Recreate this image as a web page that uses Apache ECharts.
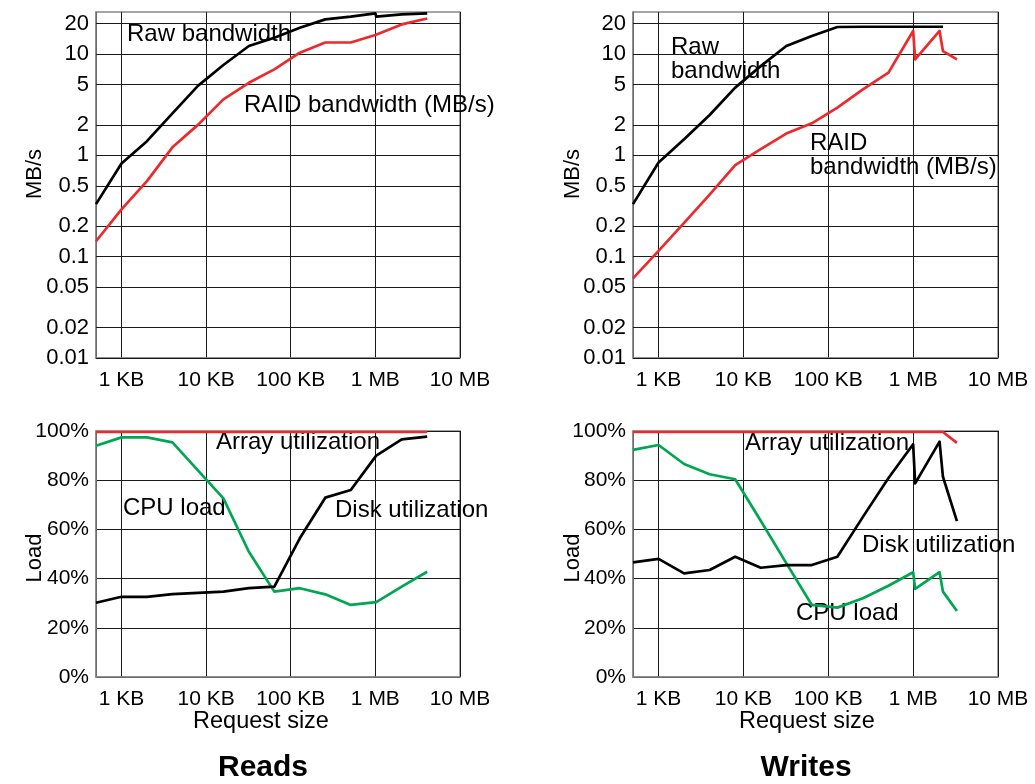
<!DOCTYPE html>
<html>
<head>
<meta charset="utf-8">
<script src="https://cdn.jsdelivr.net/npm/echarts@6/dist/echarts.min.js"></script>
<style>
  html, body { margin: 0; padding: 0; background: #fff; }
  #chart { width: 1035px; height: 784px; }
</style>
</head>
<body>
<div id="chart"></div>
<script>
// ---------- DATA ----------
// Request sizes in KB (1 MB = 1000 KB on the axis)
const readBwSizesKB   = [0.5, 1, 2, 4, 8, 16, 32, 64, 128, 256, 512, 1000, 1024, 2048, 4096];
const readRawMBs      = [0.33, 0.83, 1.38, 2.6, 4.85, 7.8, 12.0, 14.5, 18.2, 22.0, 23.4, 25.2, 23.4, 24.6, 25.2];
const readRaidMBs     = [0.142, 0.293, 0.557, 1.2, 2.0, 3.57, 5.2, 7.06, 10.3, 13.0, 13.0, 15.4, 15.6, 19.6, 22.4];

const readLoadSizesKB = [0.5, 1, 2, 4, 8, 16, 32, 64, 128, 256, 512, 1024, 2048, 4096];
const readArrayUtil   = [99.6, 99.6, 99.6, 99.6, 99.6, 99.6, 99.6, 99.6, 99.6, 99.6, 99.6, 99.6, 99.6, 99.6];
const readCpuLoad     = [94.0, 97.4, 97.4, 95.4, 84.0, 72.6, 50.9, 34.7, 36.1, 33.6, 29.3, 30.4, 36.7, 42.8];
const readDiskUtil    = [30.2, 32.6, 32.6, 33.7, 34.2, 34.7, 36.1, 36.7, 56.4, 72.9, 76.0, 90.0, 96.6, 97.7];

const writeSizesKB    = [0.5, 1, 2, 4, 8, 16, 32, 64, 128, 256, 512, 1000, 1056, 2048, 2245, 3280];
const writeRawMBs     = [0.33, 0.85, 1.44, 2.5, 4.66, 7.6, 12.0, 15.1, 18.5, 18.6, 18.6, 18.6, 18.6, 18.6, 18.6, null];
const writeRaidMBs    = [0.061, 0.114, 0.216, 0.41, 0.80, 1.15, 1.64, 2.07, 2.96, 4.48, 6.55, 16.9, 8.87, 16.9, 10.7, 8.87];
const writeArrayUtil  = [99.6, 99.6, 99.6, 99.6, 99.6, 99.6, 99.6, 99.6, 99.6, 99.6, 99.6, 99.6, 99.6, 99.6, 99.6, 95.2];
const writeDiskUtil   = [46.6, 48.0, 42.1, 43.5, 48.9, 44.4, 45.5, 45.5, 48.9, 65.1, 80.9, 94.6, 78.7, 95.7, 81.4, 63.4];
const writeCpuLoad    = [92.3, 94.3, 86.6, 82.4, 80.4, 63.5, 46.3, 29.3, 28.2, 32.0, 37.1, 42.6, 35.8, 42.6, 34.7, 26.8];

const xTickValuesKB   = [1, 10, 100, 1000, 10000];
const xTickLabels     = ['1 KB', '10 KB', '100 KB', '1 MB', '10 MB'];
const bwTickValues    = [0.01, 0.02, 0.05, 0.1, 0.2, 0.5, 1, 2, 5, 10, 20];
const loadTickLabels  = ['0%', '20%', '40%', '60%', '80%', '100%'];

// ---------- STYLE ----------
const FONT = '"Liberation Sans", Arial, Helvetica, sans-serif';
const RED = '#ec2a2e', GREEN = '#00a651', BLACK = '#000000';
const GRID_LINE = '#1a1a1a', FRAME = '#888888';

const chart = echarts.init(document.getElementById('chart'), null, { renderer: 'canvas' });

const grids = [
  { left: 96, top: 12, width: 364, height: 346 },   // reads bandwidth
  { left: 633, top: 12, width: 365, height: 346 },  // writes bandwidth
  { left: 96, top: 431, width: 364, height: 246 },  // reads load
  { left: 633, top: 431, width: 365, height: 246 }  // writes load
].map(g => Object.assign({ show: true, borderColor: FRAME, borderWidth: 1.5, backgroundColor: 'transparent', containLabel: false }, g));

function xAxisFor(i) {
  return {
    type: 'log', gridIndex: i, logBase: 10, min: 0.5, max: 10000,
    axisLine: { show: true, lineStyle: { color: FRAME, width: 1.5 } },
    axisTick: { show: false },
    splitLine: { show: true, lineStyle: { color: GRID_LINE, width: 1 } },
    axisLabel: {
      margin: 12, color: '#000', fontFamily: FONT, fontSize: 21, showMinLabel: true, showMaxLabel: true,
      formatter: v => {
        const k = xTickValuesKB.findIndex(t => Math.abs(Math.log10(v) - Math.log10(t)) < 0.01);
        return k >= 0 ? xTickLabels[k] : '';
      }
    }
  };
}

const xAxes = [0, 1, 2, 3].map(xAxisFor);
const yAxes = [
  { type: 'log', gridIndex: 0, min: 0.01, max: 26 },
  { type: 'log', gridIndex: 1, min: 0.01, max: 26 },
  { type: 'value', gridIndex: 2, min: 0, max: 100, interval: 20 },
  { type: 'value', gridIndex: 3, min: 0, max: 100, interval: 20 }
].map((a, i) => Object.assign(a, {
  axisLine: { show: true, lineStyle: { color: FRAME, width: 1.5 } },
  axisTick: { show: false },
  splitLine: { show: i >= 2, lineStyle: { color: GRID_LINE, width: 1 } },
  axisLabel: i >= 2 ? {
    show: true, margin: 7, color: '#000', fontFamily: FONT, fontSize: 21,
    formatter: v => loadTickLabels[Math.round(v / 20)]
  } : { show: false }
}));

function bwGridMarkLine() {
  return {
    silent: true, symbol: ['none', 'none'], z: 1, animation: false,
    lineStyle: { color: GRID_LINE, width: 1, type: 'solid' },
    label: { show: true, position: 'start', distance: 7, color: '#000', fontFamily: FONT, fontSize: 22,
             formatter: p => String(p.value) },
    emphasis: { disabled: true },
    data: bwTickValues.map(v => ({ yAxis: v }))
  };
}

function pairs(xs, ys) { return xs.map((x, i) => [x, ys[i]]); }

function line(name, idx, xs, ys, color, extra) {
  return Object.assign({
    type: 'line', name, xAxisIndex: idx, yAxisIndex: idx,
    data: pairs(xs, ys), showSymbol: false, symbol: 'none', smooth: false,
    connectNulls: false, silent: true, animation: false,
    lineStyle: { color, width: 2.7, join: 'round' }, itemStyle: { color }, z: 3
  }, extra || {});
}

const series = [
  line('Raw bandwidth', 0, readBwSizesKB, readRawMBs, BLACK, { markLine: bwGridMarkLine() }),
  line('RAID bandwidth (MB/s)', 0, readBwSizesKB, readRaidMBs, RED),
  line('Raw bandwidth', 1, writeSizesKB, writeRawMBs, BLACK, { markLine: bwGridMarkLine() }),
  line('RAID bandwidth (MB/s)', 1, writeSizesKB, writeRaidMBs, RED),
  line('CPU load', 2, readLoadSizesKB, readCpuLoad, GREEN),
  line('Disk utilization', 2, readLoadSizesKB, readDiskUtil, BLACK),
  line('Array utilization', 2, readLoadSizesKB, readArrayUtil, RED),
  line('CPU load', 3, writeSizesKB, writeCpuLoad, GREEN),
  line('Disk utilization', 3, writeSizesKB, writeDiskUtil, BLACK),
  line('Array utilization', 3, writeSizesKB, writeArrayUtil, RED)
];

function txt(text, x, y, opts) {
  opts = opts || {};
  return {
    type: 'text', x, y, rotation: opts.rotation || 0, z: 1, silent: true,
    style: {
      text, fill: '#000', fontFamily: FONT, fontSize: opts.size || 24,
      fontWeight: opts.weight || 'normal',
      align: opts.align || 'left', verticalAlign: 'middle'
    }
  };
}

const graphics = [
  // annotations
  txt('Raw bandwidth', 127, 34),
  txt('RAID bandwidth (MB/s)', 244, 105),
  txt('Raw', 671, 47),
  txt('bandwidth', 671, 71),
  txt('RAID', 810, 143),
  txt('bandwidth (MB/s)', 810, 167),
  txt('Array utilization', 216, 442),
  txt('CPU load', 123, 508),
  txt('Disk utilization', 335, 510),
  txt('Array utilization', 745, 443),
  txt('Disk utilization', 862, 545),
  txt('CPU load', 796, 613),
  // axis titles
  txt('MB/s', 35, 174, { rotation: Math.PI / 2, align: 'center', size: 22 }),
  txt('Load', 35, 558, { rotation: Math.PI / 2, align: 'center', size: 22 }),
  txt('MB/s', 573, 174, { rotation: Math.PI / 2, align: 'center', size: 22 }),
  txt('Load', 573, 558, { rotation: Math.PI / 2, align: 'center', size: 22 }),
  txt('Request size', 261, 722, { align: 'center', size: 23.5 }),
  txt('Request size', 807, 722, { align: 'center', size: 23.5 }),
  // panel titles
  txt('Reads', 263, 768, { align: 'center', size: 30, weight: 'bold' }),
  txt('Writes', 806, 768, { align: 'center', size: 30, weight: 'bold' })
];

chart.setOption({
  animation: false,
  backgroundColor: '#ffffff',
  grid: grids,
  xAxis: xAxes,
  yAxis: yAxes,
  series: series,
  graphic: { elements: graphics }
});
</script>
</body>
</html>
